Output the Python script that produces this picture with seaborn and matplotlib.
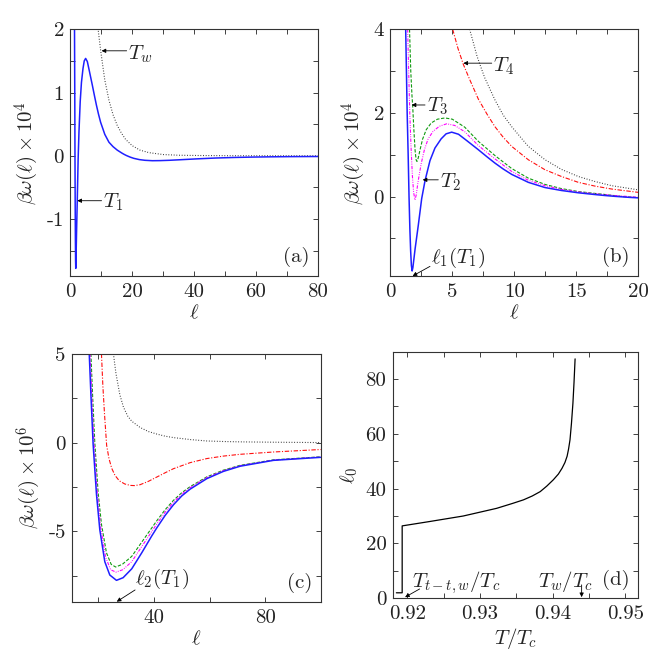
"""Four-panel figure: interface potential beta*omega(l) and l0(T)."""

import matplotlib

matplotlib.use("Agg")
import matplotlib.pyplot as plt
from matplotlib.ticker import FixedFormatter, FixedLocator
import seaborn as sns

# --- panels (a) and (b): beta*omega(l) in units of 1e-4 ---------------------
ell_T1 = [1.24, 1.30, 1.36, 1.44, 1.51, 1.58, 1.64, 1.70, 1.76, 1.82, 1.90,
          2.00, 2.26, 2.53, 2.80, 3.20, 3.60, 4.10, 4.50, 4.95, 5.50, 6.20,
          7.10, 7.80, 8.44, 9.10, 9.79, 10.5, 11.13, 12.48, 13.8, 15.16,
          16.6, 17.3, 18.1, 19.3, 20.5, 22.3, 24.1, 26.5, 29.0, 32.0, 35.6,
          41.0, 47.0, 53.0, 59.0, 65.0, 71.0, 80.0]
w4_T1 = [4.0, 3.0, 2.0, 1.0, 0.0, -0.8, -1.3, -1.65, -1.78, -1.70, -1.50,
         -1.25, -0.68, -0.05, 0.38, 0.86, 1.16, 1.38, 1.50, 1.54, 1.49, 1.33,
         1.12, 0.95, 0.80, 0.66, 0.53, 0.43, 0.34, 0.215, 0.145, 0.09,
         0.045, 0.025, 0.005, -0.02, -0.04, -0.06, -0.071, -0.0775, -0.076,
         -0.071, -0.062, -0.048, -0.035, -0.026, -0.020, -0.016, -0.013,
         -0.011]

ell_T2 = [1.40, 1.48, 1.57, 1.67, 1.78, 1.88, 1.99, 2.10, 2.20, 2.32, 2.50,
          2.75, 3.05, 3.45, 3.95, 4.55, 5.20, 6.00, 7.10, 8.44, 9.79, 11.13,
          12.48, 13.8, 15.16, 16.5, 17.85, 19.0, 20.0]
w4_T2 = [4.0, 3.0, 2.0, 1.2, 0.5, 0.1, -0.08, 0.05, 0.28, 0.5, 0.8,
         1.12, 1.38, 1.56, 1.68, 1.74, 1.70, 1.55, 1.22, 0.90, 0.60, 0.39,
         0.26, 0.17, 0.11, 0.065, 0.03, 0.005, -0.02]

ell_T3 = [1.55, 1.65, 1.75, 1.80, 1.90, 2.00, 2.08, 2.15, 2.25, 2.40, 2.60,
          2.90, 3.30, 3.80, 4.41, 5.00, 6.00, 7.10, 8.44, 9.79, 11.13, 12.48,
          13.8, 15.16, 16.5, 17.3, 18.7, 20.0]
w4_T3 = [4.0, 3.0, 2.4, 2.19, 1.6, 1.1, 0.88, 0.84, 0.92, 1.12, 1.37,
         1.60, 1.76, 1.85, 1.88, 1.85, 1.66, 1.32, 0.98, 0.67, 0.44, 0.29,
         0.19, 0.12, 0.075, 0.05, 0.0, -0.025]

ell_T4 = [5.03, 5.45, 5.89, 6.40, 7.10, 7.80, 8.44, 9.10, 9.79, 10.5, 11.13,
          12.48, 13.8, 15.16, 16.5, 17.85, 20.0]
w4_T4 = [4.0, 3.55, 3.16, 2.80, 2.33, 1.97, 1.67, 1.42, 1.20, 1.03, 0.88,
         0.64, 0.48, 0.34, 0.25, 0.18, 0.10]

ell_Tw = [6.40, 7.00, 7.60, 8.44, 9.10, 9.79, 10.5, 11.13, 12.48, 13.8,
          15.16, 16.5, 17.85, 20.0, 22.5, 25.4, 30.0, 35.0, 41.0, 50.0, 60.0,
          80.0]
w4_Tw = [4.0, 3.35, 2.85, 2.31, 1.95, 1.67, 1.42, 1.20, 0.88, 0.65,
         0.48, 0.36, 0.26, 0.16, 0.09, 0.05, 0.02, 0.009, 0.005, 0.002,
         0.001, 0.0]

# --- panel (c): beta*omega(l) in units of 1e-6 ------------------------------
c_ell_T1 = [16.7, 17.3, 18.1, 19.3, 20.5, 22.3, 24.1, 26.5, 28.9, 32.0, 35.6,
            39.2, 41.0, 44.0, 47.0, 50.0, 53.0, 59.0, 65.0, 71.0, 83.0, 100.0]
c_w6_T1 = [5.0, 2.7, -0.1, -2.9, -4.9, -6.7, -7.45, -7.75, -7.6, -7.1, -6.2,
           -5.25, -4.8, -4.1, -3.5, -3.0, -2.62, -2.03, -1.62, -1.33, -1.0,
           -0.83]

c_ell_T2 = [17.0, 17.6, 18.4, 19.6, 20.8, 22.6, 24.4, 26.3, 28.8, 32.0, 35.6,
            39.2, 41.0, 44.0, 47.0, 50.0, 53.0, 59.0, 65.0, 71.0, 83.0, 100.0]
c_w6_T2 = [5.0, 2.7, 0.0, -2.85, -4.75, -6.45, -7.15, -7.29, -7.15, -6.7,
           -5.85, -5.0, -4.58, -3.92, -3.36, -2.9, -2.54, -1.97, -1.58, -1.3,
           -0.99, -0.81]

c_ell_T3 = [17.3, 17.9, 18.7, 19.9, 21.1, 22.9, 24.6, 26.2, 28.6, 32.0, 35.6,
            39.2, 41.0, 44.0, 47.0, 50.0, 53.0, 59.0, 65.0, 71.0, 83.0, 100.0]
c_w6_T3 = [5.0, 2.7, 0.0, -2.8, -4.6, -6.2, -6.85, -7.0, -6.85, -6.4, -5.6,
           -4.8, -4.4, -3.78, -3.25, -2.82, -2.48, -1.93, -1.55, -1.28, -0.97,
           -0.80]

c_ell_T4 = [21.1, 21.6, 22.2, 22.96, 23.8, 24.8, 25.95, 27.5, 29.5, 31.5,
            33.0, 35.0, 38.0, 41.0, 44.0, 47.0, 53.0, 59.0, 65.0, 71.0, 83.0,
            100.0]
c_w6_T4 = [5.0, 3.2, 1.6, -0.15, -0.9, -1.45, -1.84, -2.15, -2.33, -2.41,
           -2.42, -2.37, -2.18, -1.94, -1.7, -1.47, -1.13, -0.9, -0.76, -0.66,
           -0.53, -0.39]

c_ell_Tw = [25.4, 26.3, 27.7, 29.0, 30.5, 32.0, 35.0, 38.0, 41.0, 44.0, 47.0,
            53.0, 59.0, 65.0, 71.0, 83.0, 100.0]
c_w6_Tw = [5.0, 3.9, 2.7, 2.0, 1.5, 1.2, 0.85, 0.62, 0.48, 0.36, 0.28,
           0.17, 0.09, 0.06, 0.04, 0.02, 0.0]

# --- panel (d): l0 against T/Tc -------------------------------------------
t_ratio = [0.9185, 0.9193, 0.9193, 0.9231, 0.9277, 0.9323, 0.9345, 0.9360,
           0.9372, 0.9383, 0.9392, 0.9401, 0.9408, 0.9413, 0.9417, 0.9420,
           0.9422, 0.9424, 0.9426, 0.9428, 0.94295, 0.9431]
ell0 = [2.0, 2.0, 26.4, 28.0, 30.0, 32.8, 34.6, 35.9, 37.3, 38.9, 40.9, 43.2,
        45.3, 47.4, 49.5, 51.8, 54.4, 57.8, 63.8, 71.1, 78.6, 87.3]

# line styles shared by all panels (gnuplot look)
STYLES = {
    "T1": dict(color="#1f1fff", lw=1.1, linestyle="-"),
    "T2": dict(color="#ff00ff", lw=0.8, linestyle=(0, (3, 1.2, 0.8, 1.2, 0.8, 1.2))),
    "T3": dict(color="#109a10", lw=0.8, linestyle=(0, (3, 1.5))),
    "T4": dict(color="#ff1010", lw=0.8, linestyle=(0, (4, 1.5, 1, 1.5))),
    "Tw": dict(color="#303030", lw=0.8, linestyle=(0, (0.8, 1.6))),
}


def draw(ax, ell, w, key):
    """Draw one curve with seaborn and keep the order of the points."""
    sns.lineplot(x=ell, y=w, ax=ax, sort=False, estimator=None, **STYLES[key])


def style_axes(ax, xt, xl, yt, yl, xlim, ylim):
    """Inward ticks on all sides, labels only where the reference has them."""
    ax.set_xlim(*xlim)
    ax.set_ylim(*ylim)
    ax.xaxis.set_major_locator(FixedLocator(xt))
    ax.xaxis.set_major_formatter(FixedFormatter(xl))
    ax.yaxis.set_major_locator(FixedLocator(yt))
    ax.yaxis.set_major_formatter(FixedFormatter(yl))
    ax.tick_params(direction="in", top=True, right=True, length=3.5,
                   width=0.6, colors="#222222", labelsize=15)
    ax.tick_params(axis="x", pad=5)
    ax.tick_params(axis="y", pad=4.5)
    for spine in ax.spines.values():
        spine.set_linewidth(0.8)
        spine.set_color("#333333")


def arrow(ax, tip, tail, text, text_xy, size=15):
    ax.annotate("", xy=tip, xytext=tail,
                arrowprops=dict(arrowstyle="-|>", lw=0.6, color="black",
                                mutation_scale=6, shrinkA=0, shrinkB=0))
    ax.text(*text_xy, text, fontsize=size, ha="left", va="center")


sns.set_style("ticks")
plt.rcParams.update({
    "font.family": ["cmr10"],
    "mathtext.fontset": "cm",
    "axes.unicode_minus": False,
    "axes.formatter.use_mathtext": True,
    "font.size": 15,
})

fig = plt.figure(figsize=(6.54, 6.54), dpi=100)
ax_a = fig.add_axes([0.1075, 0.578, 0.3787, 0.3772])
ax_b = fig.add_axes([0.5968, 0.578, 0.3792, 0.3772])
ax_c = fig.add_axes([0.1101, 0.0800, 0.3803, 0.3792])
ax_d = fig.add_axes([0.6005, 0.0852, 0.3755, 0.3761])

ylabel4 = r"$\beta\omega(\ell)\times 10^4$"
ylabel6 = r"$\beta\omega(\ell)\times 10^6$"

# (a)
draw(ax_a, ell_Tw, w4_Tw, "Tw")
draw(ax_a, ell_T1, w4_T1, "T1")
style_axes(ax_a, [0, 10, 20, 30, 40, 50, 60, 70, 80],
           ["0", "", "20", "", "40", "", "60", "", "80"],
           [-1.5, -1, -0.5, 0, 0.5, 1, 1.5, 2],
           ["", "-1", "", "0", "", "1", "", "2"], (0, 80), (-1.9, 2))
arrow(ax_a, (10.1, 1.66), (18.2, 1.66), r"$T_w$", (18.7, 1.61))
arrow(ax_a, (2.26, -0.71), (10.1, -0.71), r"$T_1$", (10.6, -0.74))

# (b)
draw(ax_b, ell_Tw, w4_Tw, "Tw")
draw(ax_b, ell_T4, w4_T4, "T4")
draw(ax_b, ell_T3, w4_T3, "T3")
draw(ax_b, ell_T2, w4_T2, "T2")
draw(ax_b, ell_T1, w4_T1, "T1")
style_axes(ax_b, [0, 2.5, 5, 7.5, 10, 12.5, 15, 17.5, 20],
           ["0", "", "5", "", "10", "", "15", "", "20"],
           [-1, 0, 1, 2, 3, 4], ["", "0", "", "2", "", "4"], (0, 20), (-1.9, 4))
arrow(ax_b, (5.89, 3.19), (8.18, 3.19), r"$T_4$", (8.3, 3.11))
arrow(ax_b, (1.72, 2.19), (2.8, 2.19), r"$T_3$", (2.94, 2.15))
arrow(ax_b, (2.61, 0.40), (3.87, 0.40), r"$T_2$", (4.0, 0.35))
arrow(ax_b, (1.8, -1.9), (3.2, -1.67), r"$\ell_1(T_1)$", (3.3, -1.47))

# (c)
draw(ax_c, c_ell_Tw, c_w6_Tw, "Tw")
draw(ax_c, c_ell_T4, c_w6_T4, "T4")
draw(ax_c, c_ell_T3, c_w6_T3, "T3")
draw(ax_c, c_ell_T2, c_w6_T2, "T2")
draw(ax_c, c_ell_T1, c_w6_T1, "T1")
style_axes(ax_c, [20, 40, 60, 80, 100], ["", "40", "", "80", ""],
           [-7.5, -5, -2.5, 0, 2.5, 5], ["", "-5", "", "0", "", "5"],
           (10.5, 100), (-8.95, 5))
arrow(ax_c, (26.6, -8.95), (33.2, -8.29), r"$\ell_2(T_1)$", (33.3, -7.65))

# (d)
sns.lineplot(x=t_ratio, y=ell0, ax=ax_d, sort=False, estimator=None,
             color="black", lw=0.9)
style_axes(ax_d, [0.92, 0.925, 0.93, 0.935, 0.94, 0.945, 0.95],
           ["0.92", "", "0.93", "", "0.94", "", "0.95"],
           [0, 10, 20, 30, 40, 50, 60, 70, 80],
           ["0", "", "20", "", "40", "", "60", "", "80"],
           (0.918, 0.9518), (0, 89.7))
arrow(ax_d, (0.9197, 0.4), (0.9217, 3.4), r"$T_{t-t,w}/T_c$", (0.9206, 5.8))
arrow(ax_d, (0.9440, 0.4), (0.9440, 4.9), r"$T_w/T_c$", (0.9380, 6.2))

for ax, lab in zip([ax_a, ax_b, ax_c, ax_d], ["(a)", "(b)", "(c)", "(d)"]):
    ax.text(0.965, 0.035, lab, transform=ax.transAxes, ha="right",
            va="bottom", fontsize=15)

for ax, yl in zip([ax_a, ax_b, ax_c], [ylabel4, ylabel4, ylabel6]):
    ax.set_xlabel(r"$\ell$", fontsize=15, labelpad=2)
    ax.set_ylabel(yl, fontsize=15, labelpad=4)
ax_d.set_xlabel(r"$T/T_c$", fontsize=15, labelpad=2)
ax_d.set_ylabel(r"$\ell_0$", fontsize=15, labelpad=4)

fig.savefig("out.png", dpi=100)
